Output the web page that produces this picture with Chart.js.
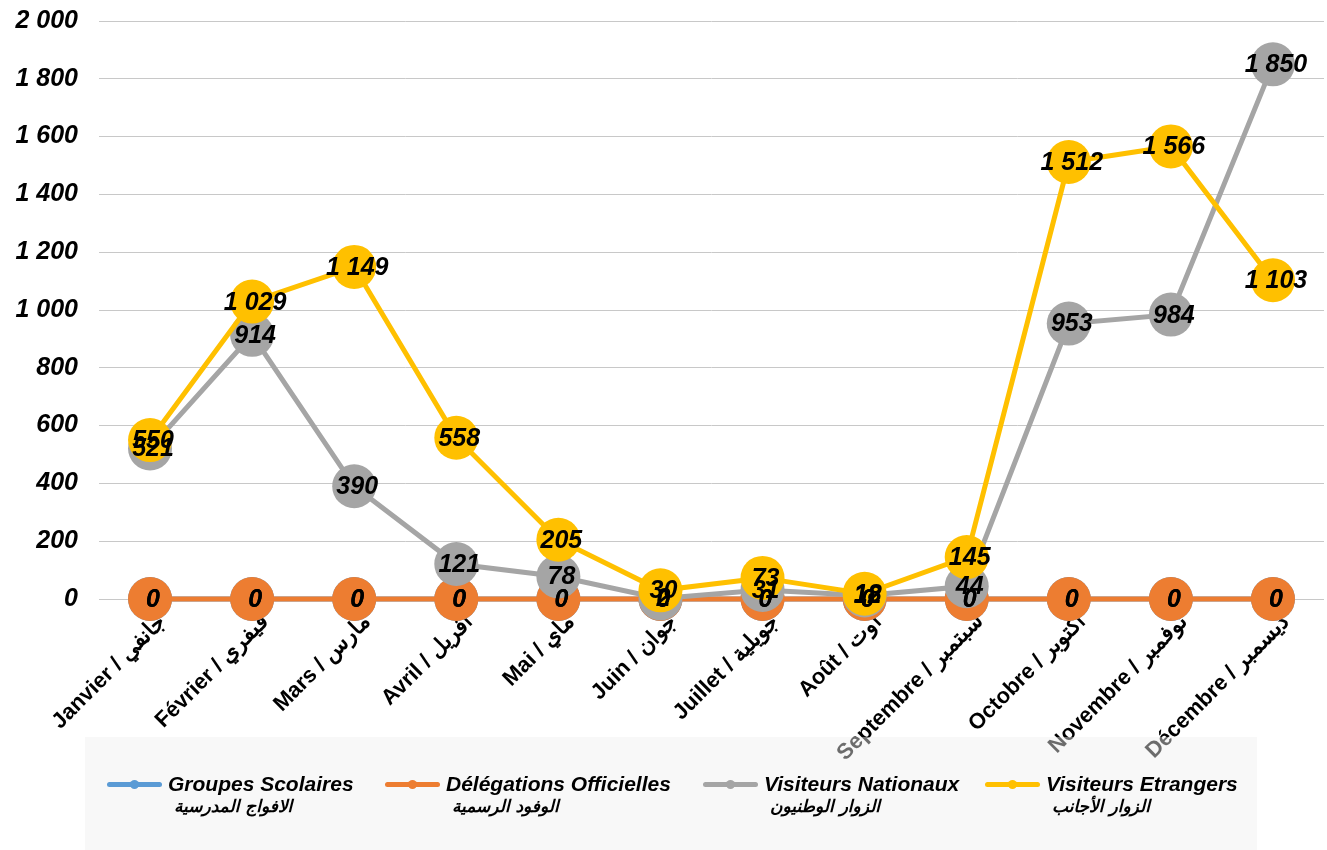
<!DOCTYPE html>
<html>
<head>
<meta charset="utf-8">
<script src="https://cdn.jsdelivr.net/npm/chart.js@4.4.1/dist/chart.umd.min.js"></script>
<style>
  html, body { margin: 0; padding: 0; background: #fff; }
  #wrap { position: relative; width: 1327px; height: 850px; overflow: hidden; }
  canvas { position: absolute; left: 0; top: 0; }
  #legend { position: absolute; left: 85px; top: 737px; width: 1172px; height: 113px;
            background: rgba(239,239,239,0.45); }
  .item { position: absolute; top: 0; font-family: "Liberation Sans", Arial, sans-serif; }
  .sample { position: absolute; top: 45px; width: 55px; height: 5px; border-radius: 3px; }
  .dot { position: absolute; top: -2px; left: 23px; width: 9px; height: 9px; border-radius: 50%; }
  .en { position: absolute; top: 35px; white-space: nowrap; font: italic bold 21px "Liberation Sans", Arial, sans-serif; color: #000; }
  .ar { position: absolute; top: 59px; white-space: nowrap; font: italic bold 17px "DejaVu Sans", sans-serif; color: #000; }
</style>
</head>
<body>
<div id="wrap">
  <canvas id="c" width="1327" height="850"></canvas>
  <div id="legend"></div>
</div>
<script>
const categories = ["Janvier / جانفي", "Février / فيفري", "Mars / مارس", "Avril / أفريل", "Mai / ماي", "Juin / جوان",
  "Juillet / جويلية", "Août / أوت", "Septembre / سبتمبر", "Octobre / أكتوبر", "Novembre / نوفمبر", "Décembre / ديسمبر"];
const seriesNames = ["Groupes Scolaires", "Délégations Officielles", "Visiteurs Nationaux", "Visiteurs Etrangers"];
const seriesNamesAr = ["الافواج المدرسية", "الوفود الرسمية", "الزوار الوطنيون", "الزوار الأجانب"];
const groupesScolaires = [0, 0, 0, 0, 0, 0, 0, 0, 0, 0, 0, 0];
const delegationsOfficielles = [0, 0, 0, 0, 0, 0, 0, 0, 0, 0, 0, 0];
const visiteursNationaux = [521, 914, 390, 121, 78, 2, 31, 12, 44, 953, 984, 1850];
const visiteursEtrangers = [550, 1029, 1149, 558, 205, 30, 73, 18, 145, 1512, 1566, 1103];
const yTicks = [0, 200, 400, 600, 800, 1000, 1200, 1400, 1600, 1800, 2000];
const colors = ["#5B9BD5", "#ED7D31", "#A5A5A5", "#FFC000"];

function fmt(v) { return String(v).replace(/\B(?=(\d{3})+(?!\d))/g, " "); }

const FONT = '"Liberation Sans", Arial, sans-serif';
const allSeries = [groupesScolaires, delegationsOfficielles, visiteursNationaux, visiteursEtrangers];
const orders = [3, 2, 1, 0];

const datasets = allSeries.map((d, i) => ({
  label: seriesNames[i],
  data: d,
  borderColor: colors[i],
  backgroundColor: colors[i],
  pointBackgroundColor: colors[i],
  pointBorderWidth: 0,
  pointRadius: 22,
  pointHoverRadius: 22,
  borderWidth: 5,
  tension: 0,
  clip: false,
  order: orders[i]
}));

const labelPlugin = {
  id: 'valueLabels',
  afterDatasetsDraw(chart) {
    const ctx = chart.ctx;
    ctx.save();
    ctx.font = 'italic bold 25px ' + FONT;
    ctx.fillStyle = '#000';
    ctx.textAlign = 'center';
    ctx.textBaseline = 'middle';
    chart.data.datasets.forEach((ds, di) => {
      const meta = chart.getDatasetMeta(di);
      meta.data.forEach((pt, i) => {
        ctx.fillText(fmt(ds.data[i]), pt.x + 3, pt.y + 1);
      });
    });
    ctx.restore();
  }
};

new Chart(document.getElementById('c'), {
  type: 'line',
  data: { labels: categories, datasets },
  plugins: [labelPlugin],
  options: {
    responsive: false,
    animation: false,
    events: [],
    layout: { autoPadding: false, padding: { top: 21, right: 3, bottom: 0, left: 0 } },
    plugins: { legend: { display: false }, tooltip: { enabled: false } },
    scales: {
      x: {
        type: 'category',
        offset: true,
        grid: { display: false },
        border: { display: false },
        ticks: {
          minRotation: 45, maxRotation: 45, autoSkip: false, padding: 2,
          labelOffset: 13,
          color: '#000',
          font: { family: FONT, size: 22, weight: 'bold' }
        },
        afterFit(s) { s.height = 251; s.paddingLeft = 0; s.paddingRight = 0; }
      },
      y: {
        min: 0, max: 2000,
        afterBuildTicks(s) { s.ticks = yTicks.map(v => ({ value: v })); },
        grid: { color: '#c8c8c8', lineWidth: 1, drawTicks: false },
        border: { display: false },
        ticks: {
          padding: 21,
          color: '#000',
          font: { family: FONT, size: 25, weight: 'bold', style: 'italic' },
          callback: v => fmt(v)
        },
        afterFit(s) { s.width = 99; s.paddingTop = 0; s.paddingBottom = 0; }
      }
    }
  }
});

// HTML legend
const lg = document.getElementById('legend');
const lefts = [22, 300, 618, 900];
seriesNames.forEach((n, i) => {
  const it = document.createElement('div');
  it.className = 'item';
  it.style.left = lefts[i] + 'px';
  it.innerHTML = '<div class="sample" style="left:0;background:' + colors[i] + '"><div class="dot" style="background:' + colors[i] + '"></div></div>' +
    '<div class="en" style="left:61px">' + n + '</div>' +
    '<div class="ar" style="left:67px" dir="rtl">' + seriesNamesAr[i] + '</div>';
  lg.appendChild(it);
});
</script>
</body>
</html>
